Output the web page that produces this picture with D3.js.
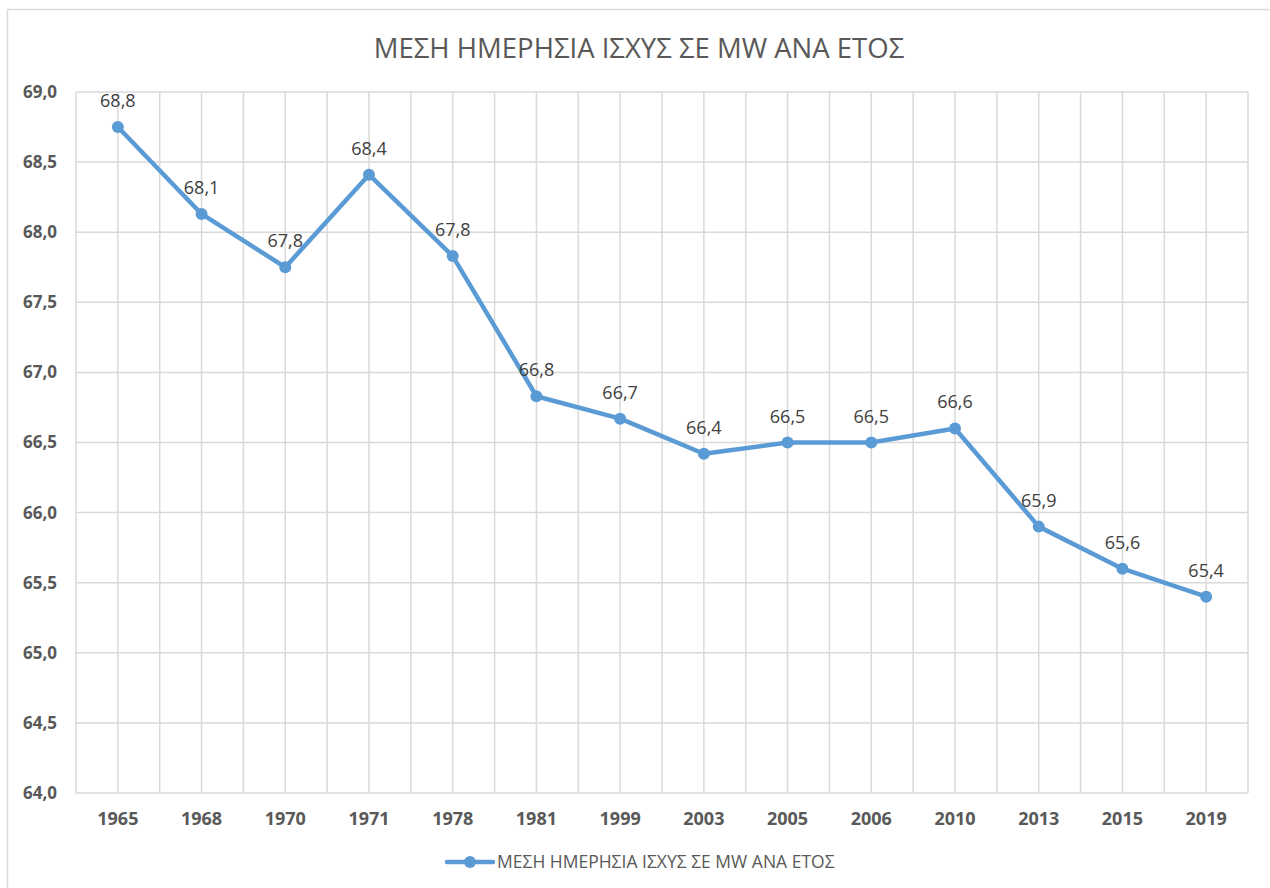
<!DOCTYPE html>
<html>
<head>
<meta charset="utf-8">
<script src="https://cdn.jsdelivr.net/npm/d3@7"></script>
<style>
  body { margin: 0; background: #fff; }
  text { font-family: "Open Sans", "Noto Sans", sans-serif; }
</style>
</head>
<body>
<div id="chart"></div>
<script>
// Data
const years = ["1965", "1968", "1970", "1971", "1978", "1981", "1999", "2003", "2005", "2006", "2010", "2013", "2015", "2019"];
const power = [68.75, 68.13, 67.75, 68.41, 67.83, 66.83, 66.67, 66.42, 66.5, 66.5, 66.6, 65.9, 65.6, 65.4];
const yTicks = [64.0, 64.5, 65.0, 65.5, 66.0, 66.5, 67.0, 67.5, 68.0, 68.5, 69.0];
const title = "ΜΕΣΗ ΗΜΕΡΗΣΙΑ ΙΣΧΥΣ ΣΕ MW ΑΝΑ ΕΤΟΣ";

const W = 1270, H = 888;
const margin = { left: 76, right: 22, top: 92, bottom: 95 };
const fmt = v => d3.format(".1f")(v).replace(".", ",");

const svg = d3.select("#chart")
  .append("svg")
  .attr("width", W)
  .attr("height", H);

// Chart border
svg.append("rect")
  .attr("x", 7.5).attr("y", 9.5)
  .attr("width", W + 10).attr("height", H + 10)
  .attr("fill", "none")
  .attr("stroke", "#d9d9d9")
  .attr("stroke-width", 1.5);

const x = d3.scaleBand()
  .domain(years)
  .range([margin.left, W - margin.right]);

const y = d3.scaleLinear()
  .domain([64, 69])
  .range([H - margin.bottom, margin.top]);

const cx = d => x(d) + x.bandwidth() / 2;

// Horizontal gridlines
svg.append("g")
  .selectAll("line")
  .data(yTicks)
  .enter()
  .append("line")
  .attr("x1", margin.left).attr("x2", W - margin.right)
  .attr("y1", d => y(d)).attr("y2", d => y(d))
  .attr("stroke", "#d9d9d9")
  .attr("stroke-width", 1.5);

// Vertical gridlines: band edges and category centres
const edges = years.map(d => x(d)).concat([W - margin.right]);
const centres = years.map(cx);
svg.append("g")
  .selectAll("line")
  .data(edges.concat(centres))
  .enter()
  .append("line")
  .attr("x1", d => d).attr("x2", d => d)
  .attr("y1", margin.top).attr("y2", H - margin.bottom)
  .attr("stroke", "#d9d9d9")
  .attr("stroke-width", 1.5);

// Y axis labels
svg.append("g")
  .selectAll("text")
  .data(yTicks)
  .enter()
  .append("text")
  .attr("x", margin.left - 19)
  .attr("y", d => y(d))
  .attr("dy", "0.35em")
  .attr("text-anchor", "end")
  .attr("font-size", 17)
  .attr("font-weight", "bold")
  .attr("fill", "#595959")
  .text(fmt);

// X axis labels
svg.append("g")
  .selectAll("text")
  .data(years)
  .enter()
  .append("text")
  .attr("x", cx)
  .attr("y", H - margin.bottom + 32)
  .attr("text-anchor", "middle")
  .attr("font-size", 18)
  .attr("font-weight", "bold")
  .attr("fill", "#595959")
  .text(d => d);

// Title
svg.append("text")
  .attr("x", 639)
  .attr("y", 58)
  .attr("text-anchor", "middle")
  .attr("font-size", 27.5)
  .attr("fill", "#595959")
  .text(title);

// Line
const color = "#5b9bd5";
const line = d3.line()
  .x((d, i) => cx(years[i]))
  .y(d => y(d));

svg.append("path")
  .datum(power)
  .attr("d", line)
  .attr("fill", "none")
  .attr("stroke", color)
  .attr("stroke-width", 4.5)
  .attr("stroke-linejoin", "round");

svg.append("g")
  .selectAll("circle")
  .data(power)
  .enter()
  .append("circle")
  .attr("cx", (d, i) => cx(years[i]))
  .attr("cy", d => y(d))
  .attr("r", 6)
  .attr("fill", color);

// Data labels
svg.append("g")
  .selectAll("text")
  .data(power)
  .enter()
  .append("text")
  .attr("x", (d, i) => cx(years[i]))
  .attr("y", d => y(d) - 20)
  .attr("text-anchor", "middle")
  .attr("font-size", 18)
  .attr("fill", "#404040")
  .text(fmt);

// Legend
const legend = svg.append("g").attr("transform", "translate(447,862)");
legend.append("line")
  .attr("x1", 0).attr("x2", 46)
  .attr("stroke", color)
  .attr("stroke-width", 4.5)
  .attr("stroke-linecap", "round");
legend.append("circle")
  .attr("cx", 23).attr("r", 6)
  .attr("fill", color);
legend.append("text")
  .attr("x", 50)
  .attr("dy", "0.35em")
  .attr("font-size", 17.5)
  .attr("fill", "#595959")
  .text(title);
</script>
</body>
</html>
